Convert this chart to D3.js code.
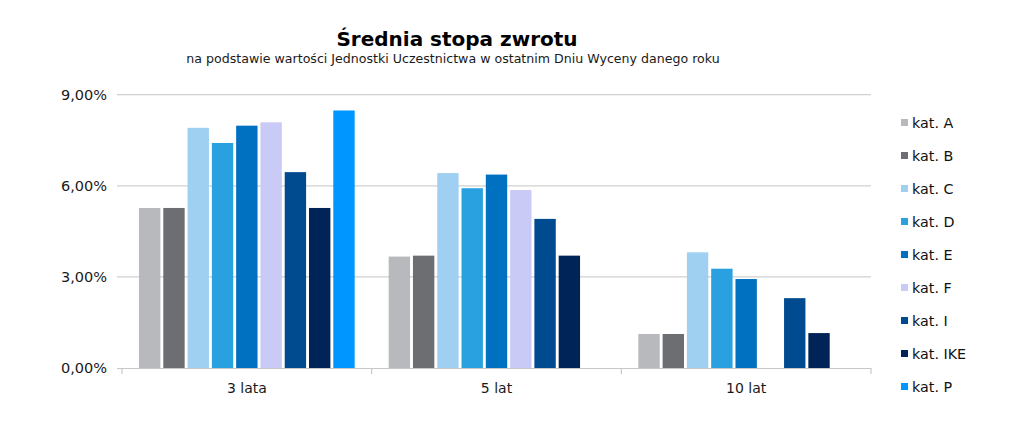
<!DOCTYPE html>
<html><head><meta charset="utf-8">
<script src="https://cdn.jsdelivr.net/npm/d3@7"></script>
<style>body{margin:0;background:#fff}svg{display:block}text{font-family:"DejaVu Sans",Tahoma,sans-serif}</style>
</head><body><svg id="c" width="1023" height="441"></svg>
<script>
const categories = ["3 lata", "5 lat", "10 lat"];
const seriesNames = ["kat. A","kat. B","kat. C","kat. D","kat. E","kat. F","kat. I","kat. IKE","kat. P"];
const katA = [5.27, 3.67, 1.12];
const katB = [5.27, 3.70, 1.12];
const katC = [7.91, 6.42, 3.81];
const katD = [7.41, 5.92, 3.27];
const katE = [7.98, 6.37, 2.93];
const katF = [8.09, 5.86, null];
const katI = [6.45, 4.91, 2.30];
const katIKE = [5.27, 3.70, 1.15];
const katP = [8.48, null, null];
const yTicks = [0, 3, 6, 9];
const colors = ["#B8B9BD","#6D6E71","#9FD0F2","#29A0E0","#0070C0","#CACAF7","#004A8F","#002457","#0096FF"];

const seriesValues = [katA,katB,katC,katD,katE,katF,katI,katIKE,katP];
const svg = d3.select("#c");
const L = 122, R = 871, T = 94.7, B = 368;
const x0 = d3.scaleBand().domain(categories).range([L, R]).paddingInner(0).paddingOuter(0);
const x1 = d3.scaleBand().domain(seriesNames).range([0, x0.bandwidth()]).paddingInner(0.12).paddingOuter(0.7);
const y = d3.scaleLinear().domain([0, 9]).range([B, T]);

// gridlines
svg.append("g").selectAll("line").data(yTicks.filter(d=>d>0)).join("line")
  .attr("x1", L-5).attr("x2", R).attr("y1", d=>y(d)).attr("y2", d=>y(d))
  .attr("stroke", "#D0D0D0").attr("stroke-width", 1.2);

// y labels
svg.append("g").selectAll("text").data(yTicks).join("text")
  .attr("x", 107).attr("y", d=>y(d)+5).attr("text-anchor","end")
  .attr("font-size", 14.5).attr("fill","#1a1a1a")
  .text(d=>d3.format(".2f")(d).replace(".", ",")+"%");

// bars
const g = svg.append("g");
categories.forEach((cat, ci) => {
  seriesNames.forEach((s, si) => {
    const v = seriesValues[si][ci];
    if (v == null) return;
    g.append("rect")
      .attr("x", x0(cat) + x1(s)).attr("width", x1.bandwidth())
      .attr("y", y(v)).attr("height", y(0)-y(v))
      .attr("fill", colors[si]);
  });
});

// x axis
const xa = svg.append("g").attr("transform", `translate(0,${B})`)
  .call(d3.axisBottom(x0).tickSize(0).tickPadding(15));
xa.select(".domain").remove();
xa.selectAll("text").attr("font-size", 14).attr("fill","#1a1a1a").attr("font-family","DejaVu Sans");
svg.append("line").attr("x1", L-5).attr("x2", R).attr("y1", B+0.5).attr("y2", B+0.5).attr("stroke","#C8C8C8").attr("stroke-width",1.2);
const bounds = categories.map(c=>x0(c)).concat([R]);
svg.append("g").selectAll("line").data(bounds).join("line")
  .attr("x1", d=>d).attr("x2", d=>d).attr("y1", B).attr("y2", B+6)
  .attr("stroke","#C8C8C8").attr("stroke-width",1.2);

// title
svg.append("text").attr("x", 457).attr("y", 46).attr("text-anchor","middle")
  .attr("font-size", 20).attr("font-weight","bold").attr("fill","#000").text("Średnia stopa zwrotu");
svg.append("text").attr("x", 453).attr("y", 63).attr("text-anchor","middle")
  .attr("font-size", 12.6).attr("fill","#1a1a1a")
  .text("na podstawie wartości Jednostki Uczestnictwa w ostatnim Dniu Wyceny danego roku");

// legend
const lg = svg.append("g").selectAll("g").data(seriesNames).join("g")
  .attr("transform", (d,i)=>`translate(901,${124 + i*33})`);
lg.append("rect").attr("x",0).attr("y",-5).attr("width",7).attr("height",7).attr("fill",(d,i)=>colors[i]);
lg.append("text").attr("x",11).attr("y",4).attr("font-size",14.3).attr("fill","#111").text(d=>d);
</script></body></html>
